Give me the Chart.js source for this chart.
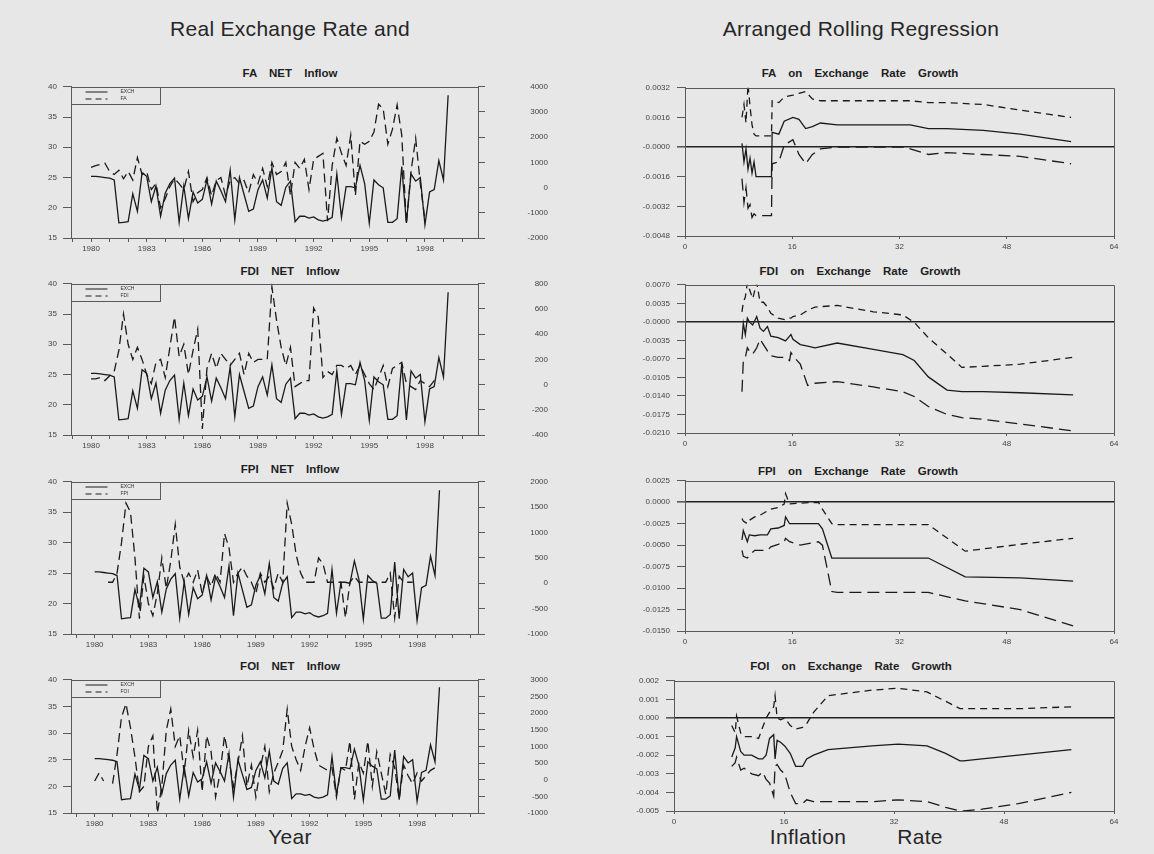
<!DOCTYPE html>
<html>
<head>
<meta charset="utf-8">
<script src="https://cdn.jsdelivr.net/npm/chart.js@4.4.1/dist/chart.umd.min.js"></script>
<style>
  html, body { margin:0; padding:0; }
  body { width:1154px; height:854px; background:#e7e7e7; position:relative; overflow:hidden;
         font-family:"Liberation Sans", Arial, sans-serif; color:#222; }
  .txt { position:absolute; white-space:nowrap; transform:translate(-50%,-50%); line-height:1; }
  .big { font-size:21px; letter-spacing:0.3px; color:#262626; }
  .ptitle { font-size:11.5px; font-weight:bold; word-spacing:9px; color:#1e1e1e; }
  canvas { position:absolute; }
</style>
</head>
<body>
<div class="txt big" style="left:290px;top:28px">Real Exchange Rate and</div>
<div class="txt big" style="left:861px;top:28px">Arranged Rolling Regression</div>
<div class="txt big" style="left:290px;top:836px">Year</div>
<div class="txt big" style="left:808px;top:836px">Inflation</div>
<div class="txt big" style="left:920px;top:836px">Rate</div>

<div class="txt ptitle" style="left:290px;top:74px">FA NET Inflow</div>
<div class="txt ptitle" style="left:290px;top:272px">FDI NET Inflow</div>
<div class="txt ptitle" style="left:290px;top:470px">FPI NET Inflow</div>
<div class="txt ptitle" style="left:290px;top:667px">FOI NET Inflow</div>
<div class="txt ptitle" style="left:860px;top:74px">FA on Exchange Rate Growth</div>
<div class="txt ptitle" style="left:860px;top:272px">FDI on Exchange Rate Growth</div>
<div class="txt ptitle" style="left:858px;top:472px">FPI on Exchange Rate Growth</div>
<div class="txt ptitle" style="left:851px;top:667px">FOI on Exchange Rate Growth</div>

<script>
// ---------------- DATA ----------------
const startYear = 1980;          // first quarter 1980Q1
const quartersPerYear = 4;

// Real exchange rate (left axis, all four left panels)
const exch = [25.2,25.2,25.1,25.0,24.9,24.6,17.5,17.6,17.7,22.3,
  19.4,25.8,25.2,21.0,23.6,18.6,22.4,24.0,24.9,17.6,
  23.6,18.2,22.6,20.8,21.4,24.6,20.6,24.4,22.8,21.0,
  26.2,18.0,25.0,22.2,19.4,19.8,23.0,24.6,21.6,26.6,
  21.0,20.4,23.4,24.4,17.7,18.6,18.6,18.3,18.5,18.0,
  17.8,18.0,18.4,25.6,18.4,23.5,23.5,23.3,27.0,24.0,
  17.4,24.6,23.8,23.3,17.6,17.6,18.2,26.8,17.5,25.6,
  24.4,25.0,17.2,22.6,23.0,27.8,24.6,38.6];

// Net inflows (right axis)
const fa = [800,870,920,970,640,520,690,350,640,300,
  1190,520,640,-80,160,-800,-440,40,350,160,
  -80,640,-560,-200,-80,400,-320,280,400,-320,
  280,400,160,280,-200,520,160,760,40,1000,
  520,640,1000,-320,1000,760,1120,-80,1120,1240,
  1360,-1330,880,1960,1360,880,2080,-320,1840,1720,
  1840,2200,3310,3120,1720,2320,3280,2080,-1450,640,
  1960,160,-1280,null,null,null,null,null];

const fdi = [46,46,56,32,70,104,272,560,320,200,
  296,200,80,8,176,200,56,296,536,224,
  320,80,272,440,-352,128,248,128,248,200,
  152,200,248,80,248,176,200,200,200,776,
  512,296,152,296,-16,8,32,32,608,536,
  56,104,80,152,152,128,152,80,152,80,
  8,-40,56,152,-16,128,152,176,8,-16,
  -40,32,8,-16,32,8,null,null];

const fpi = [null,null,null,20,20,200,800,1580,1400,500,
  -700,140,-400,-640,-200,500,-100,440,1160,320,
  20,200,20,260,-200,140,-60,200,20,980,
  700,20,200,320,140,20,-200,200,20,140,
  -100,200,20,1580,1160,560,200,20,20,20,
  500,380,20,20,20,20,-680,20,140,20,
  20,20,20,20,20,20,200,-680,140,20,
  20,20,null,null,null,null,null,null];

const foi = [-40,200,-40,null,-120,760,1880,2280,1560,680,
  -360,-200,1000,1320,-1000,-200,1480,2120,1000,1320,
  200,1480,680,1480,-360,1320,840,-520,200,1320,
  600,-200,520,1320,-200,440,-520,360,1000,-360,
  200,520,880,2120,1000,600,280,1000,1560,920,
  440,360,280,360,-520,360,280,1160,-600,520,
  200,1160,-200,840,200,-440,760,360,-600,440,
  120,-120,200,-40,120,280,360,null];

const yearTickLabels = ['1980','1983','1986','1989','1992','1995','1998'];
const exchTicks = [15,20,25,30,35,40];
const faTicks  = [-2000,-1000,0,1000,2000,3000,4000];
const fdiTicks = [-400,-200,0,200,400,600,800];
const fpiTicks = [-1000,-500,0,500,1000,1500,2000];
const foiTicks = [-1000,-500,0,500,1000,1500,2000,2500,3000];

// Rolling regressions (x = window index, coefficient with upper/lower bands)
const faX     = [8.5,8.8,9.1,9.4,9.7,10.0,10.3,10.6,10.9,12.9,13.0,14.0,14.8,16.1,17.0,18.0,19.0,20.2,22.7,28.1,32.5,33.6,36.3,39.0,44.5,50.0,57.6];
const faCoef  = [0.0002,-0.0008,-0.0001,-0.0012,-0.0006,-0.0014,-0.0008,-0.0016,-0.0016,-0.0016,0.0008,0.0007,0.0014,0.0016,0.0015,0.0010,0.0011,0.0013,0.0012,0.0012,0.0012,0.0012,0.0010,0.0010,0.0009,0.0007,0.0003];
const faUpper = [0.0016,0.0023,0.0013,0.0034,0.0022,0.0012,0.0007,0.0006,0.0006,0.0006,0.0025,0.0024,0.0027,0.0028,0.0029,0.0030,0.0026,0.0025,0.0025,0.0025,0.0025,0.0025,0.0024,0.0024,0.0023,0.0020,0.0016];
const faLower = [-0.0017,-0.0030,-0.0022,-0.0033,-0.0031,-0.0038,-0.0036,-0.0037,-0.0037,-0.0037,-0.0009,-0.0008,0.0001,0.0004,-0.0004,-0.0009,-0.0004,-0.0001,0.0000,0.0000,0.0000,-0.0001,-0.0004,-0.0003,-0.0004,-0.0005,-0.0009];

const fdiX     = [8.5,8.7,9.0,9.3,9.6,10.1,10.7,11.2,11.7,12.3,12.8,13.9,15.0,15.6,15.8,16.1,17.2,18.3,19.4,22.7,28.1,32.5,34.2,36.3,39.1,41.3,44.5,50.0,57.9];
const fdiCoef  = [-0.0033,-0.0003,-0.0024,0.0007,0.0000,-0.0006,0.0010,-0.0012,-0.0018,-0.0009,-0.0027,-0.0030,-0.0036,-0.0027,-0.0024,-0.0033,-0.0043,-0.0046,-0.0049,-0.0040,-0.0052,-0.0062,-0.0073,-0.0104,-0.0129,-0.0132,-0.0132,-0.0134,-0.0138];
const fdiUpper = [0.0019,0.0037,0.0047,0.0074,0.0062,0.0044,0.0074,0.0037,0.0037,0.0028,0.0016,0.0007,0.0004,0.0007,0.0007,0.0010,0.0013,0.0022,0.0028,0.0031,0.0019,0.0013,-0.0001,-0.0030,-0.0061,-0.0086,-0.0084,-0.0080,-0.0067];
const fdiLower = [-0.0132,-0.0073,-0.0067,-0.0049,-0.0055,-0.0061,-0.0049,-0.0033,-0.0043,-0.0055,-0.0064,-0.0067,-0.0067,-0.0073,-0.0058,-0.0064,-0.0080,-0.0120,-0.0116,-0.0113,-0.0123,-0.0132,-0.0141,-0.0160,-0.0175,-0.0181,-0.0184,-0.0193,-0.0206];

const fpiX     = [8.5,8.7,9.3,9.6,10.4,11.2,12.3,12.8,13.9,14.8,15.0,15.6,17.2,19.9,20.5,21.9,22.7,28.1,36.3,41.8,50.0,57.9];
const fpiCoef  = [-0.0044,-0.0033,-0.0046,-0.0038,-0.0039,-0.0038,-0.0038,-0.0031,-0.0030,-0.0027,-0.0017,-0.0025,-0.0025,-0.0025,-0.0031,-0.0065,-0.0065,-0.0065,-0.0065,-0.0087,-0.0088,-0.0092];
const fpiUpper = [-0.0019,-0.0022,-0.0025,-0.0021,-0.0017,-0.0015,-0.0010,-0.0008,-0.0006,-0.0002,0.0010,-0.0002,-0.0001,0.0000,-0.0008,-0.0025,-0.0026,-0.0026,-0.0026,-0.0057,-0.0049,-0.0042];
const fpiLower = [-0.0056,-0.0063,-0.0065,-0.0062,-0.0056,-0.0056,-0.0056,-0.0052,-0.0049,-0.0046,-0.0042,-0.0046,-0.0050,-0.0046,-0.0050,-0.0104,-0.0105,-0.0105,-0.0105,-0.0115,-0.0125,-0.0144];

const foiX     = [8.4,8.9,9.1,9.7,10.2,11.3,12.3,12.9,13.4,13.9,14.5,14.7,15.0,15.5,16.1,16.9,17.7,18.7,19.3,20.3,22.4,28.8,32.6,36.8,39.5,41.6,42.1,44.8,50.1,57.8];
const foiCoef  = [-0.0021,-0.0016,-0.0010,-0.0018,-0.0020,-0.0020,-0.0022,-0.0022,-0.0020,-0.0011,-0.0009,-0.0022,-0.0012,-0.0013,-0.0015,-0.0019,-0.0026,-0.0026,-0.0022,-0.0020,-0.0017,-0.0015,-0.0014,-0.0015,-0.0019,-0.0023,-0.0023,-0.0022,-0.0020,-0.0017];
const foiUpper = [-0.0004,-0.0008,0.0001,-0.0008,-0.0010,-0.0010,-0.0011,-0.0005,0.0000,0.0003,0.0006,0.0012,0.0000,-0.0001,0.0000,-0.0004,-0.0006,-0.0005,-0.0003,0.0003,0.0012,0.0015,0.0016,0.0014,0.0009,0.0005,0.0005,0.0005,0.0005,0.0006];
const foiLower = [-0.0026,-0.0024,-0.0021,-0.0028,-0.0027,-0.0030,-0.0031,-0.0029,-0.0033,-0.0035,-0.0042,-0.0026,-0.0025,-0.0028,-0.0030,-0.0040,-0.0046,-0.0046,-0.0044,-0.0045,-0.0045,-0.0045,-0.0044,-0.0045,-0.0048,-0.0050,-0.0050,-0.0049,-0.0046,-0.0040];

const regXTicks = [0,16,32,48,64];
const reg1Ticks = [-0.0048,-0.0032,-0.0016,0,0.0016,0.0032];
const reg1Labels = ['-0.0048','-0.0032','-0.0016','-0.0000','0.0016','0.0032'];
const reg2Ticks = [-0.021,-0.0175,-0.014,-0.0105,-0.007,-0.0035,0,0.0035,0.007];
const reg2Labels = ['-0.0210','-0.0175','-0.0140','-0.0105','-0.0070','-0.0035','-0.0000','0.0035','0.0070'];
const reg3Ticks = [-0.015,-0.0125,-0.01,-0.0075,-0.005,-0.0025,0,0.0025];
const reg3Labels = ['-0.0150','-0.0125','-0.0100','-0.0075','-0.0050','-0.0025','0.0000','0.0025'];
const reg4Ticks = [-0.005,-0.004,-0.003,-0.002,-0.001,0,0.001,0.002];
const reg4Labels = ['-0.005','-0.004','-0.003','-0.002','-0.001','0.000','0.001','0.002'];

// ---------------- DRAWING ----------------
const INK = '#1a1a1a';
const AXIS = '#5a5a5a';
const BG = '#e7e7e7';
const LW = 1.3;
const FONT = {family:'"Liberation Sans", Arial, sans-serif', size:8};
Chart.defaults.font.family = FONT.family;

function quarterly(arr){ return arr.map((v,i)=>({x: startYear + i/quartersPerYear, y: v})); }
function xy(xs, ys){ return xs.map((x,i)=>({x:x, y:ys[i]})); }
function setTicks(list){ return function(s){ s.ticks = list.map(v=>({value:v})); }; }

const framePlugin = {
  id:'frame',
  afterDatasetsDraw(chart){
    const a = chart.chartArea, c = chart.ctx;
    c.save(); c.strokeStyle = AXIS; c.lineWidth = 1; c.setLineDash([]);
    c.beginPath();
    c.moveTo(Math.round(a.left)+0.5, Math.round(a.top)+0.5);
    c.lineTo(Math.round(a.right)+0.5, Math.round(a.top)+0.5);
    c.lineTo(Math.round(a.right)+0.5, Math.round(a.bottom)+0.5);
    c.stroke(); c.restore();
  }
};

const boxLegend = {
  id:'boxLegend',
  afterDatasetsDraw(chart){
    const a = chart.chartArea, c = chart.ctx;
    const x0 = Math.round(a.left)+0.5, y0 = Math.round(a.top)+0.5;
    c.save();
    c.fillStyle = BG; c.fillRect(x0, y0, 89, 17);
    c.strokeStyle = AXIS; c.lineWidth = 1; c.strokeRect(x0, y0, 89, 17);
    chart.data.datasets.forEach((ds,i)=>{
      const y = y0 + 4.5 + i*7;
      c.strokeStyle = INK; c.lineWidth = 1;
      c.setLineDash(i===0 ? [] : [6,4]);
      c.beginPath(); c.moveTo(x0+14, y); c.lineTo(x0+36, y); c.stroke();
      c.setLineDash([]);
      c.fillStyle = '#333'; c.font = '5px ' + FONT.family; c.textBaseline = 'middle';
      c.fillText(ds.label, x0+49, y);
    });
    c.restore();
  }
};

function makeCanvas(left, top, w, h){
  const cv = document.createElement('canvas');
  cv.width = w; cv.height = h;
  cv.style.left = left+'px'; cv.style.top = top+'px';
  cv.style.width = w+'px'; cv.style.height = h+'px';
  document.body.appendChild(cv);
  return cv;
}

function leftPanel(T, B, label, series, rTicks, xMin, xMax){
  const L = 71, R = 478, W = 548, padTop = 8, xH = 22;
  const cv = makeCanvas(0, T - padTop, W, (B - T) + padTop + xH);
  const yearTickValues = [];
  for (let y = Math.ceil(xMin); y <= Math.floor(xMax); y++) yearTickValues.push(y);
  new Chart(cv, {
    type:'line',
    data:{ datasets:[
      {label:'EXCH', data:quarterly(exch), yAxisID:'y', borderColor:INK, borderWidth:LW, pointRadius:0, tension:0, fill:false},
      {label:label, data:quarterly(series), yAxisID:'y1', borderColor:INK, borderWidth:LW, borderDash:[9,5], pointRadius:0, tension:0, fill:false, spanGaps:false}
    ]},
    options:{
      responsive:false, animation:false, devicePixelRatio:1,
      layout:{padding:{top:padTop, left:0, right:0, bottom:0}},
      plugins:{legend:{display:false}, tooltip:{enabled:false}},
      scales:{
        x:{type:'linear', min:xMin, max:xMax,
           afterBuildTicks:setTicks(yearTickValues),
           ticks:{autoSkip:false, maxRotation:0, font:FONT, color:'#444', padding:2,
                  callback:(v)=> yearTickLabels.includes(String(v)) ? String(v) : ''},
           grid:{drawOnChartArea:false, tickLength:4, tickColor:AXIS},
           border:{color:AXIS},
           afterFit:(s)=>{ s.height = xH; }},
        y:{position:'left', min:15, max:40, afterBuildTicks:setTicks(exchTicks),
           ticks:{font:FONT, color:'#444', padding:6},
           grid:{drawOnChartArea:false, tickLength:8, tickColor:AXIS},
           border:{color:AXIS},
           afterFit:(s)=>{ s.width = L; }},
        y1:{position:'right', min:rTicks[0], max:rTicks[rTicks.length-1], afterBuildTicks:setTicks(rTicks),
           ticks:{font:FONT, color:'#444', crossAlign:'far', callback:(v)=>String(v)},
           grid:{drawOnChartArea:false, tickLength:7, tickColor:AXIS},
           border:{color:AXIS},
           afterFit:(s)=>{ s.width = W - R; }}
      }
    },
    plugins:[framePlugin, boxLegend]
  });
}

function rightPanel(T, B, L, xs, coef, upper, lower, yTicks, yLabels){
  const R = 1114, C0 = 600, padTop = 8, padRight = 14, xH = 22;
  const W = R + padRight - C0;
  const cv = makeCanvas(C0, T - padTop, W, (B - T) + padTop + xH);
  new Chart(cv, {
    type:'line',
    data:{ datasets:[
      {label:'coefficient', data:xy(xs, coef), borderColor:INK, borderWidth:LW, pointRadius:0, tension:0, fill:false},
      {label:'upper', data:xy(xs, upper), borderColor:INK, borderWidth:LW, borderDash:[7,5], pointRadius:0, tension:0, fill:false},
      {label:'lower', data:xy(xs, lower), borderColor:INK, borderWidth:LW, borderDash:[12,6], pointRadius:0, tension:0, fill:false}
    ]},
    options:{
      responsive:false, animation:false, devicePixelRatio:1,
      layout:{padding:{top:padTop, left:0, right:padRight, bottom:0}},
      plugins:{legend:{display:false}, tooltip:{enabled:false}},
      scales:{
        x:{type:'linear', min:regXTicks[0], max:regXTicks[regXTicks.length-1],
           afterBuildTicks:setTicks(regXTicks),
           ticks:{autoSkip:false, maxRotation:0, font:FONT, color:'#444', padding:3},
           grid:{drawOnChartArea:false, tickLength:3, tickColor:AXIS},
           border:{color:AXIS},
           afterFit:(s)=>{ s.height = xH; }},
        y:{min:yTicks[0], max:yTicks[yTicks.length-1], afterBuildTicks:setTicks(yTicks),
           ticks:{font:FONT, color:'#444', padding:7, callback:(v,i)=>yLabels[i]},
           grid:{drawOnChartArea:true, tickLength:8, tickColor:AXIS,
                 color:(ctx)=> (ctx.tick && ctx.tick.value === 0) ? '#222' : 'rgba(0,0,0,0)',
                 lineWidth:(ctx)=> (ctx.tick && ctx.tick.value === 0) ? 1.6 : 1},
           border:{color:AXIS},
           afterFit:(s)=>{ s.width = L - C0; }}
      }
    },
    plugins:[framePlugin]
  });
}

leftPanel(84, 238, 'FA',  fa,  faTicks,  1978.92, 2000.86);
leftPanel(281, 435, 'FDI', fdi, fdiTicks, 1978.92, 2000.86);
leftPanel(479, 634, 'FPI', fpi, fpiTicks, 1978.68, 2001.4);
leftPanel(677, 813, 'FOI', foi, foiTicks, 1978.68, 2001.4);

rightPanel(84, 236, 685, faX, faCoef, faUpper, faLower, reg1Ticks, reg1Labels);
rightPanel(281, 433, 685, fdiX, fdiCoef, fdiUpper, fdiLower, reg2Ticks, reg2Labels);
rightPanel(477, 631, 685, fpiX, fpiCoef, fpiUpper, fpiLower, reg3Ticks, reg3Labels);
rightPanel(677, 811, 674, foiX, foiCoef, foiUpper, foiLower, reg4Ticks, reg4Labels);
</script>
</body>
</html>
